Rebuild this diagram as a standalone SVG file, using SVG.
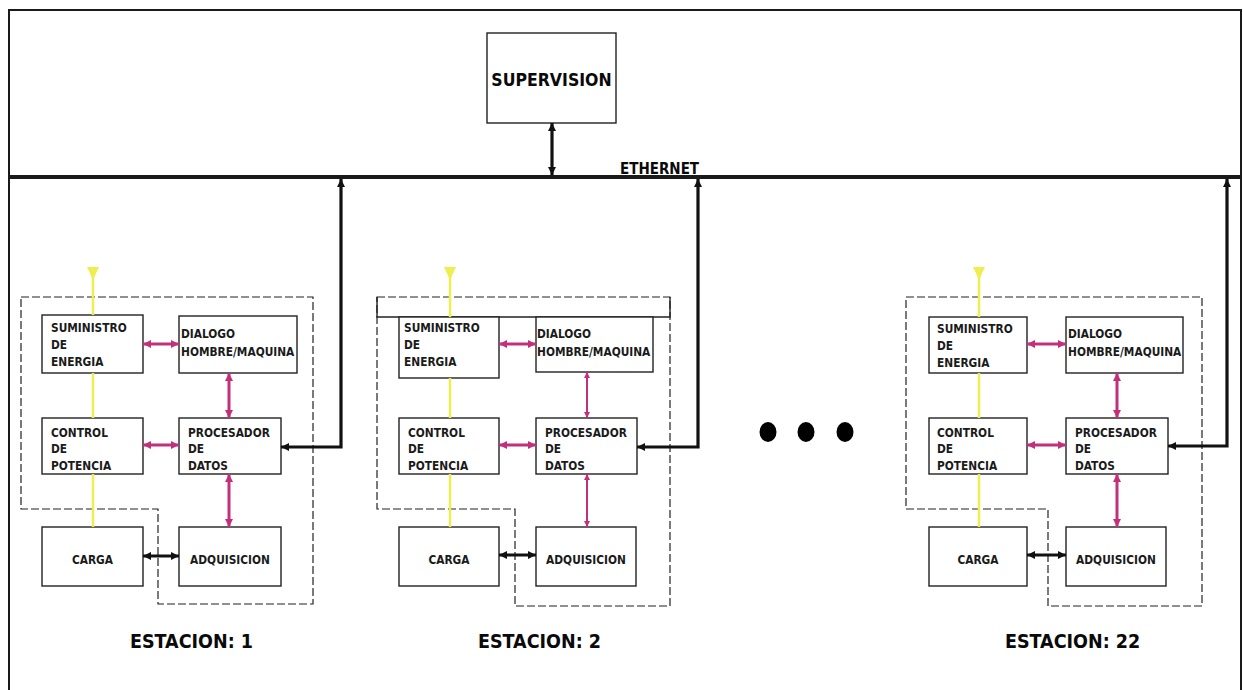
<svg xmlns="http://www.w3.org/2000/svg" width="1243" height="690" viewBox="0 0 1243 690">
<defs>
<style>
.box{fill:#fff;stroke:#222;stroke-width:1.4}
.dash{fill:none;stroke:#222;stroke-width:1.2;stroke-dasharray:8,3}
.t{font-family:"DejaVu Sans Condensed","DejaVu Sans",Verdana,sans-serif;font-weight:bold;font-size:11.8px;fill:#1a1a1a}
.big{font-family:"DejaVu Sans Condensed","DejaVu Sans",Verdana,sans-serif;font-weight:bold;fill:#0a0a0a}
.yel{stroke:#EEEE50;stroke-width:2.5;fill:none}
.mag{stroke:#C2307C;stroke-width:3;fill:none;marker-start:url(#am);marker-end:url(#am)}
.mag2{stroke:#C2307C;stroke-width:2;fill:none;marker-start:url(#am2);marker-end:url(#am2)}
.blk{stroke:#111;stroke-width:3.2;fill:none;marker-start:url(#ab);marker-end:url(#ab)}
.frame{stroke:#1a1a1a;fill:none}
</style>
<marker id="am" viewBox="0 0 8 8" refX="8" refY="4" markerWidth="8" markerHeight="8" markerUnits="userSpaceOnUse" orient="auto-start-reverse"><path d="M0,0 L8,4 L0,8 z" fill="#C2307C"/></marker>
<marker id="am2" viewBox="0 0 8 8" refX="8" refY="4" markerWidth="6" markerHeight="6" markerUnits="userSpaceOnUse" orient="auto-start-reverse"><path d="M0,0 L8,4 L0,8 z" fill="#C2307C"/></marker>
<marker id="ab" viewBox="0 0 8 8" refX="8" refY="4" markerWidth="8" markerHeight="8" markerUnits="userSpaceOnUse" orient="auto-start-reverse"><path d="M0,0 L8,4 L0,8 z" fill="#111"/></marker>
</defs>
<rect width="1243" height="690" fill="#fff"/>

<g id="frame">
<path class="frame" d="M9,690 V10 H1241 V690" stroke-width="2"/>
<line class="frame" x1="9" y1="177" x2="1241" y2="177" stroke-width="4"/>
<text class="big" x="620" y="174" font-size="15">ETHERNET</text>
</g>

<g id="supervision">
<rect class="box" x="487" y="33" width="129" height="90"/>
<text class="big" x="551.5" y="86" font-size="17.5" text-anchor="middle">SUPERVISION</text>
</g>

<g id="station1-outline">
<polygon class="dash" points="21,297 313,297 313,604 158,604 158,509 21,509"/>
</g>
<g id="s1-suministro"><rect class="box" x="42" y="315" width="101" height="58"/><text class="t" x="51" y="332">SUMINISTRO</text><text class="t" x="51" y="349">DE</text><text class="t" x="51" y="366">ENERGIA</text></g>
<g id="s1-dialogo"><rect class="box" x="179" y="316" width="118" height="57"/><text class="t" x="181" y="338">DIALOGO</text><text class="t" x="181" y="356">HOMBRE/MAQUINA</text></g>
<g id="s1-control"><rect class="box" x="42" y="418" width="101" height="56"/><text class="t" x="51" y="437">CONTROL</text><text class="t" x="51" y="453">DE</text><text class="t" x="51" y="470">POTENCIA</text></g>
<g id="s1-procesador"><rect class="box" x="179" y="418" width="102" height="56"/><text class="t" x="188" y="437">PROCESADOR</text><text class="t" x="188" y="453">DE</text><text class="t" x="188" y="470">DATOS</text></g>
<g id="s1-carga"><rect class="box" x="42" y="527" width="101" height="59"/><text class="t" x="92.5" y="564" text-anchor="middle">CARGA</text></g>
<g id="s1-adquisicion"><rect class="box" x="179" y="527" width="102" height="59"/><text class="t" x="230" y="564" text-anchor="middle">ADQUISICION</text></g>
<g id="s1-label"><text class="big" x="130" y="648" font-size="19.5">ESTACION: 1</text></g>

<g id="station2-outline">
<polygon class="dash" points="377,297 670,297 670,606 515,606 515,509 377,509"/>
<path d="M377,297 V317 H670 V297" fill="none" stroke="#222" stroke-width="1.4"/>
</g>
<g id="s2-suministro"><rect class="box" x="399" y="317" width="100" height="61"/><text class="t" x="404" y="332">SUMINISTRO</text><text class="t" x="404" y="349">DE</text><text class="t" x="404" y="366">ENERGIA</text></g>
<g id="s2-dialogo"><rect class="box" x="536" y="317" width="117" height="55"/><text class="t" x="537" y="338">DIALOGO</text><text class="t" x="537" y="356">HOMBRE/MAQUINA</text></g>
<g id="s2-control"><rect class="box" x="399" y="418" width="100" height="56"/><text class="t" x="408" y="437">CONTROL</text><text class="t" x="408" y="453">DE</text><text class="t" x="408" y="470">POTENCIA</text></g>
<g id="s2-procesador"><rect class="box" x="536" y="418" width="101" height="56"/><text class="t" x="545" y="437">PROCESADOR</text><text class="t" x="545" y="453">DE</text><text class="t" x="545" y="470">DATOS</text></g>
<g id="s2-carga"><rect class="box" x="399" y="527" width="100" height="59"/><text class="t" x="449" y="564" text-anchor="middle">CARGA</text></g>
<g id="s2-adquisicion"><rect class="box" x="536" y="527" width="100" height="59"/><text class="t" x="586" y="564" text-anchor="middle">ADQUISICION</text></g>
<g id="s2-label"><text class="big" x="478" y="648" font-size="19.5">ESTACION: 2</text></g>

<g id="station22-outline">
<polygon class="dash" points="906,297 1202,297 1202,606 1048,606 1048,509 906,509"/>
</g>
<g id="s22-suministro"><rect class="box" x="929" y="317" width="98" height="56"/><text class="t" x="937" y="333">SUMINISTRO</text><text class="t" x="937" y="350">DE</text><text class="t" x="937" y="367">ENERGIA</text></g>
<g id="s22-dialogo"><rect class="box" x="1066" y="317" width="117" height="56"/><text class="t" x="1068" y="338">DIALOGO</text><text class="t" x="1068" y="356">HOMBRE/MAQUINA</text></g>
<g id="s22-control"><rect class="box" x="929" y="418" width="98" height="56"/><text class="t" x="937" y="437">CONTROL</text><text class="t" x="937" y="453">DE</text><text class="t" x="937" y="470">POTENCIA</text></g>
<g id="s22-procesador"><rect class="box" x="1066" y="418" width="102" height="56"/><text class="t" x="1075" y="437">PROCESADOR</text><text class="t" x="1075" y="453">DE</text><text class="t" x="1075" y="470">DATOS</text></g>
<g id="s22-carga"><rect class="box" x="929" y="527" width="98" height="59"/><text class="t" x="978" y="564" text-anchor="middle">CARGA</text></g>
<g id="s22-adquisicion"><rect class="box" x="1066" y="527" width="100" height="59"/><text class="t" x="1116" y="564" text-anchor="middle">ADQUISICION</text></g>
<g id="s22-label"><text class="big" x="1005" y="648" font-size="19.5">ESTACION: 22</text></g>

<g id="ellipsis">
<ellipse cx="768" cy="432" rx="8.5" ry="10" fill="#000"/>
<ellipse cx="806" cy="432" rx="8.5" ry="10" fill="#000"/>
<ellipse cx="845" cy="432" rx="8.5" ry="10" fill="#000"/>
</g>

<g id="connectors">
<line class="blk" x1="552" y1="123" x2="552" y2="175" stroke-width="2.8"/>
<!-- station 1 -->
<line class="yel" x1="93" y1="274" x2="93" y2="315"/>
<line class="yel" x1="93" y1="373" x2="93" y2="418"/>
<line class="yel" x1="93" y1="474" x2="93" y2="527"/>
<polygon points="87,267 99,267 93,280" fill="#EEEE50"/>
<line class="mag" x1="143" y1="344" x2="179" y2="344"/>
<line class="mag" x1="143" y1="445" x2="179" y2="445"/>
<line class="mag" x1="229" y1="373" x2="229" y2="418"/>
<line class="mag" x1="229" y1="474" x2="229" y2="527"/>
<line class="blk" x1="143" y1="556" x2="179" y2="556"/>
<path class="blk" d="M281,447 H341 V179"/>
<!-- station 2 -->
<line class="yel" x1="450" y1="274" x2="450" y2="317"/>
<line class="yel" x1="450" y1="378" x2="450" y2="418"/>
<line class="yel" x1="450" y1="474" x2="450" y2="527"/>
<polygon points="444,267 456,267 450,280" fill="#EEEE50"/>
<line class="mag" x1="499" y1="344" x2="536" y2="344"/>
<line class="mag" x1="499" y1="445" x2="536" y2="445"/>
<line class="mag2" x1="587" y1="372" x2="587" y2="418"/>
<line class="mag2" x1="587" y1="474" x2="587" y2="527"/>
<line class="blk" x1="499" y1="555" x2="536" y2="555"/>
<path class="blk" d="M637,447 H698 V179"/>
<!-- station 22 -->
<line class="yel" x1="979" y1="274" x2="979" y2="317"/>
<line class="yel" x1="979" y1="373" x2="979" y2="418"/>
<line class="yel" x1="979" y1="474" x2="979" y2="527"/>
<polygon points="973,267 985,267 979,280" fill="#EEEE50"/>
<line class="mag" x1="1027" y1="344" x2="1066" y2="344"/>
<line class="mag" x1="1027" y1="445" x2="1066" y2="445"/>
<line class="mag" x1="1117" y1="373" x2="1117" y2="418"/>
<line class="mag" x1="1117" y1="474" x2="1117" y2="527"/>
<line class="blk" x1="1027" y1="555" x2="1066" y2="555"/>
<path class="blk" d="M1168,446 H1227 V179"/>
</g>
</svg>
